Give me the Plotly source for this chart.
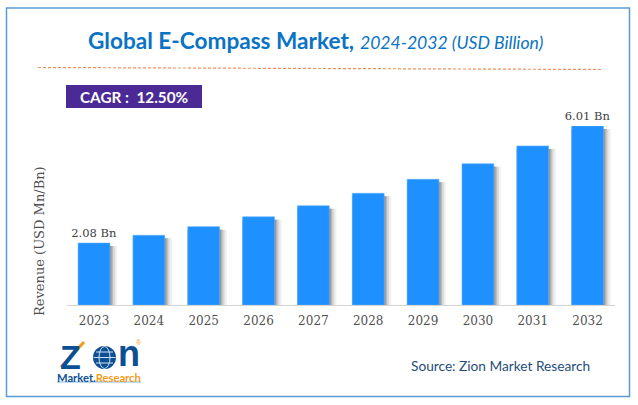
import plotly.graph_objects as go

W, H = 638, 405

years = ["2023", "2024", "2025", "2026", "2027", "2028", "2029", "2030", "2031", "2032"]
revenue = [2.08, 2.34, 2.63, 2.96, 3.33, 3.75, 4.22, 4.74, 5.34, 6.01]
bar_labels = ["2.08 Bn", "", "", "", "", "", "", "", "", "6.01 Bn"]

BLUE = "#1e90ff"
SERIF = "DejaVu Serif"


def px(x):
    return x / W


def py(y):
    return 1 - y / H


def label(text, x, y, size, color, font="Lato", **kw):
    fig.add_annotation(text=text, x=px(x), y=py(y), xref="paper", yref="paper",
                       xanchor="center", yanchor="middle", showarrow=False,
                       font=dict(family=font, size=size, color=color), **kw)


def box(kind, x0, y0, x1, y1, **kw):
    fig.add_shape(type=kind, xref="paper", yref="paper",
                  x0=px(x0), x1=px(x1), y0=py(y0), y1=py(y1), **kw)


fig = go.Figure()

# soft shadow to the right of each bar, darkest strip drawn last
shadow = [(0.42, "#f0f0f0"), (0.38, "#d8d8d8"), (0.345, "#b8b8b8"), (0.32, "#989898")]
for right, col in shadow:
    fig.add_trace(go.Bar(x=years, y=[v - 0.1 for v in revenue], width=right + 0.29, offset=-0.29,
                         marker=dict(color=col, line_width=0), hoverinfo="skip", showlegend=False))

fig.add_trace(go.Bar(
    x=years, y=revenue, width=0.58, offset=-0.29,
    marker=dict(color=BLUE, line=dict(color="#5aaeff", width=0.6)),
    text=bar_labels, textposition="outside", cliponaxis=False, constraintext="none",
    textfont=dict(family=SERIF, size=11.5, color="#404040"),
    showlegend=False,
))

fig.update_layout(
    width=W, height=H, margin=dict(l=0, r=0, t=0, b=0),
    paper_bgcolor="white", plot_bgcolor="white", barmode="overlay",
    xaxis=dict(domain=[px(66.6), px(615)], type="category", showgrid=False,
               showline=True, linecolor="#d4d4d4", linewidth=1, ticks="",
               ticklabelstandoff=5,
               tickfont=dict(family=SERIF, size=12, color="#505050")),
    yaxis=dict(domain=[py(305), py(126)], range=[0, 6.01], visible=False),
)

# frame and header
box("rect", 6.5, 8, 629.5, 396.5, line=dict(color="#5b9bd5", width=1.5))
label("<b>Global E-Compass Market,</b> <i style='font-size:17.6px'>2024-2032 (USD Billion)</i>",
      315.5, 40, 22.6, "#0a73c4")
box("line", 38, 67.5, 602, 69.5, line=dict(color="#f4915a", width=1.2, dash="3px,2px"))
box("rect", 66, 85, 202, 108, fillcolor="#4b2a96", line_width=0)
label("<b>CAGR :  12.50%</b>", 134, 96.5, 15.3, "white")
label("Revenue (USD Mn/Bn)", 39, 241, 13, "#505050", font=SERIF, textangle=-90)
label("Source: Zion Market Research", 500.5, 365, 13.7, "#1f4e79")

# logo
label("<b>Z</b>", 70, 357, 34, "#0d4f94", font="Liberation Sans")
box("line", 61, 367, 84, 342, line=dict(color="#f39a1e", width=3))
box("circle", 93, 346, 116, 369, fillcolor="#0d4f94", line_width=0)
box("line", 96, 352, 113, 352, line=dict(color="#cfe2f3", width=1))
box("line", 96, 363, 113, 363, line=dict(color="#cfe2f3", width=1))
box("line", 93.5, 357.5, 115.5, 357.5, line=dict(color="#cfe2f3", width=1))
box("circle", 99, 346.5, 110, 368.5, line=dict(color="#cfe2f3", width=1))
label("<b>n</b>", 129, 353, 36, "#0d4f94", font="Liberation Sans")
label("®", 139, 342, 7, "#f39a1e", font="Liberation Sans")
label("<b>Market.<span style='color:#f39a1e'>Research</span></b>", 99, 377, 11.2, "#0d4f94")
box("line", 57, 382, 141, 382, line=dict(color="#7fb2dd", width=1))

fig.write_html("out.html", config=dict(displayModeBar=False),
               post_script="document.body.style.margin='0';")
